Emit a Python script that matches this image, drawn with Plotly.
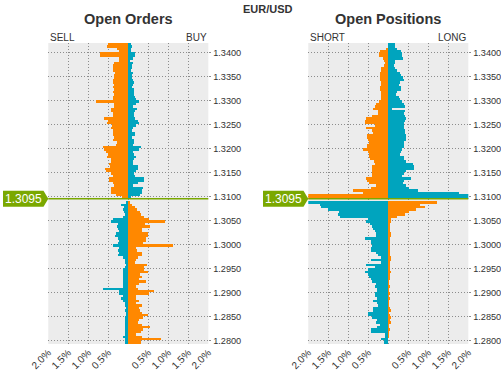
import plotly.graph_objects as go

# ---------------- data ----------------
CURRENT_PRICE = 1.3095
BIN = 0.0005
TOP_LEVEL = 1.3415   # lower edge of the top bin
N_BINS = 126
levels = [round(TOP_LEVEL - BIN * k, 4) for k in range(N_BINS)]  # lower edges, top -> bottom

# Open Orders (% of total), bins above current price (k=0..64)
orders_above_sell = [0.49,0.53,0.28,0.22,0.69,0.69,0.22,0.22,0.35,0.37,
                     0.38,0.38,0.33,0.36,0.34,0.38,0.37,0.34,0.37,0.36,
                     0.38,0.34,0.37,0.38,0.80,0.34,0.34,0.43,0.43,0.38,
                     0.38,0.59,0.51,0.53,0.40,0.42,0.38,0.38,0.37,0.34,
                     0.38,0.28,0.30,0.63,0.60,0.55,0.51,0.53,0.42,0.42,
                     0.47,0.44,0.57,0.55,0.43,0.38,0.47,0.47,0.37,0.34,
                     0.42,0.42,0.42,0.29,0.15]
orders_above_buy = [0.07,0.10,0.08,0.07,0.18,0.18,0.12,0.06,0.12,0.10,
                    0.09,0.08,0.12,0.10,0.09,0.12,0.14,0.12,0.09,0.14,
                    0.16,0.16,0.18,0.20,0.27,0.20,0.13,0.22,0.18,0.16,
                    0.14,0.18,0.24,0.27,0.20,0.13,0.10,0.18,0.18,0.10,
                    0.14,0.14,0.12,0.33,0.28,0.12,0.16,0.20,0.16,0.12,
                    0.12,0.26,0.26,0.20,0.14,0.18,0.41,0.41,0.26,0.12,
                    0.37,0.35,0.35,0.30,0.08]
# bin containing the current price (k=65) is empty
# bins below current price (k=66..125)
orders_below_sell = [0.03,0.17,0.09,0.12,0.09,0.08,0.13,0.37,0.42,0.26,
                     0.28,0.26,0.23,0.30,0.32,0.26,0.23,0.26,0.37,0.23,
                     0.26,0.23,0.25,0.13,0.08,0.07,0.05,0.07,0.12,0.13,
                     0.13,0.13,0.13,0.13,0.13,0.13,0.63,0.23,0.23,0.13,
                     0.17,0.13,0.07,0.07,0.05,0.07,0.05,0.05,0.07,0.07,
                     0.08,0.08,0.08,0.07,0.07,0.07,0.12,0.07,0.07,0.08]
orders_below_buy = [0.05,0.10,0.18,0.22,0.30,0.33,0.39,0.52,0.93,0.43,
                    0.56,0.35,0.35,0.51,0.51,0.45,0.45,0.37,1.13,0.20,
                    0.23,0.35,0.35,0.24,0.20,0.18,0.48,0.39,0.41,0.49,
                    0.30,0.35,0.28,0.45,0.28,0.20,0.24,0.66,0.53,0.20,
                    0.20,0.28,0.20,0.35,0.28,0.31,0.35,0.51,0.37,0.28,
                    0.24,0.34,0.56,0.38,0.33,0.20,0.34,0.82,0.33,0.33]

# Open Positions (% of total)
positions_above_short = [0.00,0.00,0.04,0.20,0.22,0.23,0.13,0.10,0.08,0.10,
                         0.17,0.17,0.19,0.19,0.21,0.21,0.18,0.18,0.20,0.19,
                         0.18,0.17,0.18,0.18,0.23,0.30,0.33,0.38,0.25,0.25,
                         0.40,0.54,0.57,0.58,0.33,0.54,0.40,0.38,0.52,0.52,
                         0.50,0.48,0.52,0.52,0.63,0.50,0.48,0.48,0.45,0.35,
                         0.33,0.39,0.39,0.40,0.40,0.39,0.56,0.52,0.48,0.29,
                         0.42,0.88,0.63,2.30,2.30]
positions_above_long = [0.17,0.18,0.22,0.33,0.34,0.35,0.38,0.17,0.17,0.15,
                        0.18,0.22,0.30,0.33,0.38,0.39,0.29,0.27,0.32,0.33,
                        0.22,0.20,0.28,0.30,0.35,0.40,0.42,0.10,0.43,0.40,
                        0.42,0.44,0.42,0.40,0.39,0.39,0.42,0.42,0.44,0.46,
                        0.46,0.40,0.39,0.39,0.36,0.33,0.30,0.40,0.39,0.45,
                        0.62,0.64,0.64,0.46,0.40,0.35,0.58,0.40,0.38,0.46,
                        0.52,0.74,1.77,2.40,2.40]
positions_below_short = [2.05,1.71,1.67,1.50,1.22,1.25,1.21,0.50,0.54,0.46,
                         0.39,0.38,0.33,0.31,0.31,0.58,0.42,0.42,0.40,0.43,
                         0.43,0.29,0.25,0.17,0.43,0.17,0.56,0.33,0.50,0.58,
                         0.50,0.48,0.42,0.39,0.29,0.33,0.27,0.27,0.33,0.33,
                         0.27,0.37,0.27,0.25,0.37,0.37,0.50,0.50,0.40,0.27,
                         0.29,0.21,0.27,0.43,0.42,0.08,0.08,0.17,0.10,0.10]
positions_below_long = [1.23,0.80,0.92,0.70,0.52,0.42,0.22,0.08,0.08,0.06,
                        0.05,0.05,0.05,0.08,0.08,0.06,0.04,0.06,0.04,0.03,
                        0.03,0.03,0.03,0.08,0.08,0.03,0.03,0.03,0.03,0.08,
                        0.04,0.03,0.03,0.02,0.02,0.03,0.02,0.02,0.03,0.02,
                        0.03,0.02,0.02,0.02,0.03,0.07,0.02,0.03,0.08,0.03,
                        0.08,0.02,0.02,0.03,0.02,0.02,0.02,0.00,0.00,0.00]

x_tickvals = [-2.0, -1.5, -1.0, -0.5, 0.0, 0.5, 1.0, 1.5, 2.0]
x_ticktext = ["2.0%", "1.5%", "1.0%", "0.5%", "", "0.5%", "1.0%", "1.5%", "2.0%"]

# ---------------- styling ----------------
ORANGE = "#FF8800"
TEAL = "#00A4BE"
GREEN = "#7AA800"
BG = "#ECECEC"
GRID = "#8C8C8C"
TXT = "#333333"
FONT = "Liberation Sans, Arial, sans-serif"

orders_left = orders_above_sell + [0.0] + orders_below_sell
orders_right = orders_above_buy + [0.0] + orders_below_buy
pos_left = positions_above_short + [0.0] + positions_below_short
pos_right = positions_above_long + [0.0] + positions_below_long

centers = [lv + BIN / 2 for lv in levels]
above = [lv >= CURRENT_PRICE for lv in levels]
left_colors = [ORANGE if a else TEAL for a in above]
right_colors = [TEAL if a else ORANGE for a in above]

fig = go.Figure()


def add_pair(left, right, xa, ya):
    fig.add_trace(go.Bar(y=centers, x=[-v for v in left], orientation="h", width=BIN,
                         marker=dict(color=left_colors, line=dict(width=0)),
                         xaxis=xa, yaxis=ya, showlegend=False, hoverinfo="skip"))
    fig.add_trace(go.Bar(y=centers, x=right, orientation="h", width=BIN,
                         marker=dict(color=right_colors, line=dict(width=0)),
                         xaxis=xa, yaxis=ya, showlegend=False, hoverinfo="skip"))


add_pair(orders_left, orders_right, "x", "y")
add_pair(pos_left, pos_right, "x2", "y2")

W, H = 501, 370
Y_RANGE = [1.279229, 1.341938]
YDOM = [1 - 344 / H, 1 - 43 / H]
XDOM1 = [48.3 / W, 208.3 / W]
XDOM2 = [308.3 / W, 468.3 / W]
DOT = "1px,2px"

xcommon = dict(range=[-2, 2], tickvals=x_tickvals, ticktext=x_ticktext, tickangle=-45,
               showgrid=True, gridcolor=GRID, griddash=DOT, gridwidth=1, zeroline=False,
               tickfont=dict(family=FONT, size=10, color=TXT), ticks="", showline=False,
               fixedrange=True, automargin=False)
ycommon = dict(range=Y_RANGE, tick0=1.28, dtick=0.005, tickformat=".4f", side="right",
               showgrid=True, gridcolor=GRID, griddash=DOT, gridwidth=1, zeroline=False,
               ticks="outside", ticklen=2, tickcolor=GRID,
               tickfont=dict(family=FONT, size=9.2, color=TXT), showline=False,
               fixedrange=True, automargin=False)

fig.update_layout(
    width=W, height=H, margin=dict(l=0, r=0, t=0, b=0, autoexpand=False),
    paper_bgcolor="white", plot_bgcolor=BG, barmode="overlay", bargap=0,
    xaxis=dict(domain=XDOM1, anchor="y", **xcommon),
    yaxis=dict(domain=YDOM, anchor="x", **ycommon),
    xaxis2=dict(domain=XDOM2, anchor="y2", **xcommon),
    yaxis2=dict(domain=YDOM, anchor="x2", **ycommon),
    font=dict(family=FONT, color=TXT),
)

# current price lines
for xr, yr in (("x domain", "y"), ("x2 domain", "y2")):
    fig.add_shape(type="line", xref=xr, yref=yr, x0=0, x1=1, y0=CURRENT_PRICE, y1=CURRENT_PRICE,
                  line=dict(color=GREEN, width=1.5), layer="above")

# price tags
HALF = 8 / 4800.0
for x_right, tip in ((43.5 / W, 48.3 / W), (303.5 / W, 308.3 / W)):
    x_left = x_right - 40.5 / W
    p = CURRENT_PRICE
    path = (f"M {x_left},{p - HALF} L {x_right},{p - HALF} L {tip},{p} "
            f"L {x_right},{p + HALF} L {x_left},{p + HALF} Z")
    fig.add_shape(type="path", xref="paper", yref="y", path=path,
                  fillcolor=GREEN, line=dict(width=0), layer="above")
    fig.add_annotation(x=(x_left + x_right) / 2, y=p, xref="paper", yref="y",
                       text=f"{CURRENT_PRICE:.4f}", showarrow=False,
                       font=dict(family=FONT, size=12, color="white"),
                       xanchor="center", yanchor="middle")

def txt(x, y, s, size, bold=False, anchor="center"):
    fig.add_annotation(x=x / W, y=1 - y / H, xref="paper", yref="paper",
                       text=f"<b>{s}</b>" if bold else s, showarrow=False,
                       font=dict(family=FONT, size=size, color=TXT),
                       xanchor=anchor, yanchor="middle")

txt(268, 9, "EUR/USD", 11, bold=True)
txt(128.3, 19, "Open Orders", 14.5, bold=True)
txt(388.3, 19, "Open Positions", 14.5, bold=True)
txt(48, 37.5, "SELL", 10, anchor="left")
txt(208.5, 37.5, "BUY", 10, anchor="right")
txt(308, 37.5, "SHORT", 10, anchor="left")
txt(468.5, 37.5, "LONG", 10, anchor="right")

fig.write_html("out.html", config={"displayModeBar": False},
               post_script="document.body.style.margin='0';document.body.style.overflow='hidden';")
